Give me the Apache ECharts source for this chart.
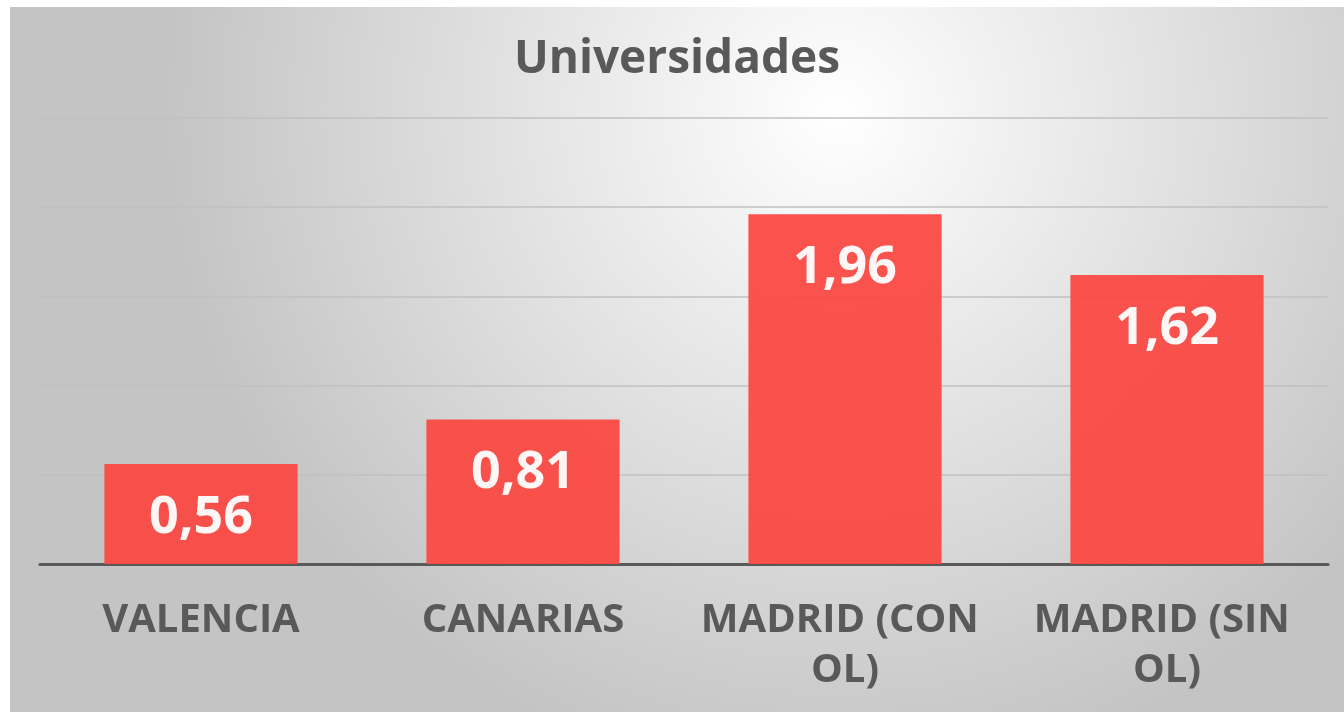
<!DOCTYPE html>
<html>
<head>
<meta charset="utf-8">
<title>Universidades</title>
<script src="https://cdn.jsdelivr.net/npm/echarts@6/dist/echarts.min.js"></script>
<style>
	html, body { margin: 0; padding: 0; background: #fff; }
	#chart { position: absolute; left: 10px; top: 7px; width: 1334px; height: 705px; }
</style>
</head>
<body>
<div id="chart"></div>
<script>
// datos
var categorias = ["VALENCIA", "CANARIAS", "MADRID (CON OL)", "MADRID (SIN OL)"];
var valores = [0.56, 0.81, 1.96, 1.62];
var ejeMin = 0;
var ejeMax = 2.5;
var ejePaso = 0.5;

var fuente = "Open Sans";
var grisTexto = "#595959";

var myChart = echarts.init(document.getElementById('chart'));
var option = {
	backgroundColor : {
		type : 'radial',
		x : 0.62,
		y : 0.15,
		r : 0.95,
		colorStops : [ {
			offset : 0,
			color : '#ffffff'
		}, {
			offset : 1,
			color : '#c4c4c4'
		} ]
	},
	title : {
		text : 'Universidades',
		left : 'center',
		top : 25,
		textStyle : {
			color : grisTexto,
			fontFamily : fuente,
			fontWeight : 'bold',
			fontSize : 46
		}
	},
	grid : {
		left : 30,
		right : 16,
		top : 111,
		bottom : 148
	},
	xAxis : {
		type : 'category',
		data : categorias,
		axisTick : { show : false },
		axisLine : {
			lineStyle : { color : grisTexto, width : 3 }
		},
		axisLabel : {
			color : grisTexto,
			fontFamily : fuente,
			fontWeight : 'bold',
			fontSize : 40,
			lineHeight : 50,
			margin : 32,
			width : 290,
			overflow : 'break',
			interval : 0
		}
	},
	yAxis : {
		type : 'value',
		min : ejeMin,
		max : ejeMax,
		interval : ejePaso,
		axisLabel : { show : false },
		axisLine : { show : false },
		axisTick : { show : false },
		splitLine : {
			lineStyle : { color : '#c0c0c0', width : 1.5 }
		}
	},
	series : [ {
		type : 'bar',
		data : valores,
		barCategoryGap : '40%',
		itemStyle : {
			color : '#fa4a43',
			opacity : 0.95
		},
		label : {
			show : true,
			position : 'insideTop',
			distance : 28,
			color : '#ffffff',
			fontFamily : fuente,
			fontWeight : 'bold',
			fontSize : 52,
			formatter : function(p) {
				return p.value.toFixed(2).replace('.', ',');
			}
		}
	} ]
};
myChart.setOption(option);
</script>
</body>
</html>
